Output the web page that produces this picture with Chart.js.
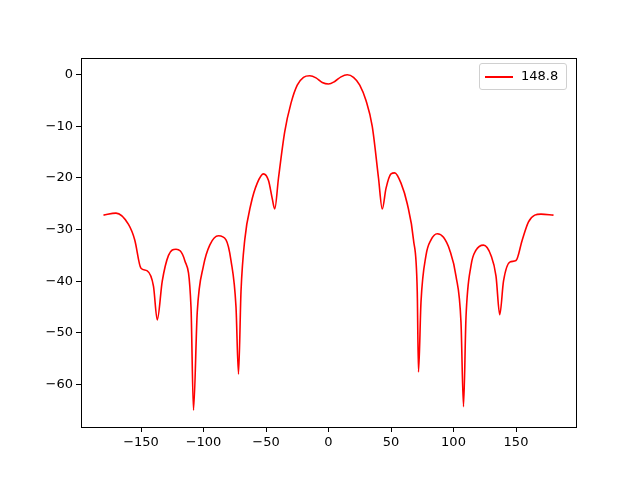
<!DOCTYPE html>
<html>
<head>
<meta charset="utf-8">
<script src="https://cdn.jsdelivr.net/npm/chart.js@4/dist/chart.umd.min.js"></script>
<style>
  html, body { margin: 0; padding: 0; background: #fff; }
  #wrap { position: relative; width: 640px; height: 480px; }
  #legend {
    position: absolute; left: 479px; top: 63px; width: 88px; height: 27px;
    border: 1px solid #d0d0d0; border-radius: 3px; background: rgba(255,255,255,0.8);
    font: 13px "DejaVu Sans", sans-serif; color: #000; box-sizing: border-box;
  }
  #legend .swatch { position: absolute; left: 5px; top: 12px; width: 28px; height: 2px; background: #ff0000; }
  #legend .label { position: absolute; left: 41px; top: 4px; }
</style>
</head>
<body>
<div id="wrap">
  <canvas id="chart" width="640" height="480"></canvas>
  <div id="legend"><div class="swatch"></div><div class="label">148.8</div></div>
</div>
<script>
const SERIES_LABEL = '148.8'
const angles = [
  -180, -170, -160, -155, -150, -145, -140, -137, -133, -128, -122, -115, -110, -108, -105,
  -100, -95, -88, -82, -78, -74, -72, -70, -67, -62, -57, -52, -48, -45, -43, -40, -35, -30,
  -25, -20, -15, -10, -5, 0, 5, 10, 15, 20, 25, 30, 35, 40, 43, 46, 50, 53, 58, 63, 68, 71,
  72, 74, 78, 82, 87, 92, 97, 102, 106, 108, 110, 114, 118, 124, 130, 134, 137, 140, 145,
  150, 155, 160, 165, 170, 180,
]
const gainDb = [
  -27.2, -26.8, -29, -32, -37.5, -38, -41, -47.5, -40, -35, -33.8, -36, -45, -65, -46,
  -37, -33, -31.2, -32, -36, -45, -58, -42, -32, -25, -21, -19.2, -20.5, -24, -26, -20, -11, -5.5,
  -2, -0.5, -0.2, -0.6, -1.5, -1.8, -1.3, -0.4, 0, -0.5, -2, -5, -10, -20, -26, -22, -19.2, -19, -21, -25, -32, -42,
  -57.6, -44, -35, -32, -30.8, -31.5, -34, -39, -48, -64.3, -47, -37, -34, -33, -35, -39, -46.5, -40, -36.3,
  -36, -32, -28.5, -27.2, -27, -27.2,
]
const xTicks = [-150, -100, -50, 0, 50, 100, 150]
const yTicks = [0, -10, -20, -30, -40, -50, -60]

const FONT = { family: 'DejaVu Sans', size: 13 }
const fmt = (v) => String(v).replace('-', '\u2212')

const frameBox = {
  id: 'frameBox',
  afterDraw(chart) {
    const { ctx, chartArea: a } = chart
    ctx.save()
    ctx.strokeStyle = '#000'
    ctx.lineWidth = 1
    ctx.strokeRect(a.left + 0.5, a.top + 0.5, a.right - a.left, a.bottom - a.top)
    ctx.restore()
  },
}

new Chart(document.getElementById('chart'), {
  type: 'line',
  data: {
    datasets: [{
      label: SERIES_LABEL,
      data: angles.map((x, i) => ({ x, y: gainDb[i] })),
      borderColor: '#ff0000',
      borderWidth: 1.6,
      pointRadius: 0,
      cubicInterpolationMode: 'monotone',
      fill: false,
    }],
  },
  options: {
    responsive: false,
    animation: false,
    layout: { padding: { top: 58, right: 64, left: 0, bottom: 0 } },
    plugins: { legend: { display: false }, tooltip: { enabled: false } },
    scales: {
      x: {
        type: 'linear', min: -198, max: 198,
        afterBuildTicks: (s) => { s.ticks = xTicks.map((value) => ({ value })) },
        afterFit: (s) => { s.height = 53 },
        grid: { drawOnChartArea: false, tickLength: 5, color: '#000' },
        border: { display: false },
        ticks: { color: '#000', font: FONT, padding: 3, callback: fmt, maxRotation: 0 },
      },
      y: {
        type: 'linear', min: -68.25, max: 3.25,
        afterBuildTicks: (s) => { s.ticks = yTicks.map((value) => ({ value })) },
        afterFit: (s) => { s.width = 81 },
        grid: { drawOnChartArea: false, tickLength: 5, color: '#000' },
        border: { display: false },
        ticks: { color: '#000', font: FONT, padding: 3, callback: fmt },
      },
    },
  },
  plugins: [frameBox],
})
</script>
</body>
</html>
